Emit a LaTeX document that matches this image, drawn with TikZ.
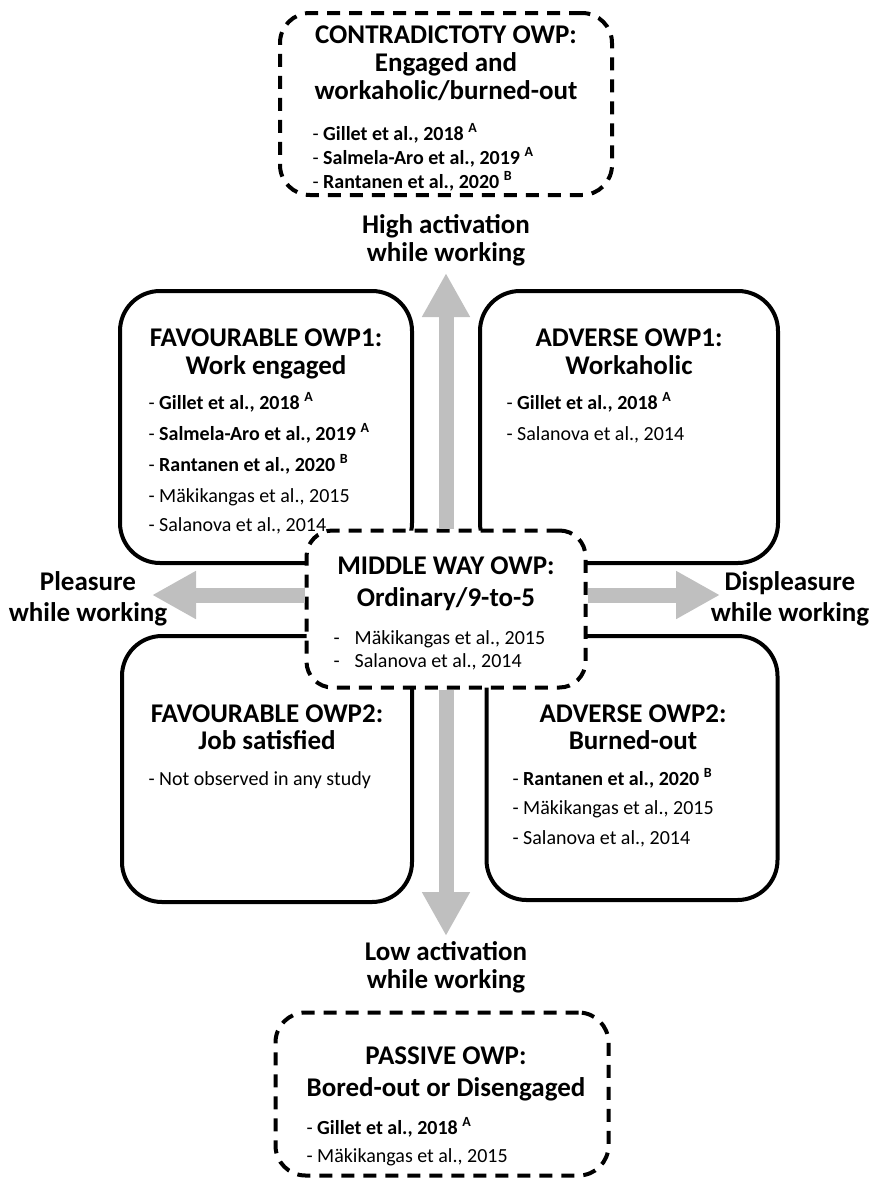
\documentclass[tikz,border=0pt]{standalone}
\usepackage{fontspec}
\setmainfont{Carlito}
\usetikzlibrary{arrows.meta}
\begin{document}
\begin{tikzpicture}[x=1pt, y=-1pt,
    owpbox/.style={draw, line width=4pt, rounded corners=40pt, fill=white, inner sep=0pt},
    dashbox/.style={owpbox, rounded corners=30pt, dash pattern=on 13pt off 9pt},
    ttl/.style={font=\fontsize{27}{30}\selectfont\bfseries, anchor=base},
    ref/.style={font=\fontsize{20}{24}\selectfont, anchor=base west},
    grayarrow/.style={line width=15pt, draw=black!25, -{Triangle[length=44pt,width=45pt]}}]
        \useasboundingbox (0,0) rectangle (873,1178);
        %\draw [help lines, step=50] (0,0) grid (873,1178);

        % outer (dashed) profiles
        \node (contra) [dashbox, minimum width=332pt, minimum height=182pt] at (446,104) {};
        \node (passive) [dashbox, minimum width=333pt, minimum height=163pt] at (442,1094) {};

        % the four quadrants
        \node (fav1) [owpbox, minimum width=292pt, minimum height=272pt] at (266,427) {};
        \node (adv1) [owpbox, minimum width=298pt, minimum height=272pt] at (629,427) {};
        \node (fav2) [owpbox, minimum width=290pt, minimum height=266pt] at (267,769) {};
        \node (adv2) [owpbox, minimum width=291pt, minimum height=264pt] at (632,768) {};

        % middle way, drawn over the quadrants
        \node (mid) [dashbox, rounded corners=26pt, minimum width=279pt, minimum height=157pt] at (446,609) {};

        % axes
        \coordinate (hightip) at (446,273);
        \coordinate (lowtip) at (446,936);
        \coordinate (pleastip) at (152,595);
        \coordinate (displtip) at (720,595);
        \draw [grayarrow] (mid.north -| hightip) -- (hightip);
        \draw [grayarrow] (mid.south -| lowtip) -- (lowtip);
        \draw [grayarrow] (mid.west |- pleastip) -- (pleastip);
        \draw [grayarrow] (mid.east |- displtip) -- (displtip);

        \node (hi1) [ttl] at (446,233) {High activation};
        \node (hi2) [ttl] at (446,261) {while working};
        \node (lo1) [ttl] at (446,960) {Low activation};
        \node (lo2) [ttl] at (446,988) {while working};
        \node (pl1) [ttl] at (88,590) {Pleasure};
        \node (pl2) [ttl] at (88,621) {while working};
        \node (dp1) [ttl] at (790,590) {Displeasure};
        \node (dp2) [ttl] at (790,621) {while working};

        % contradictory
        \node (contraA) [ttl] at (446,43) {CONTRADICTOTY OWP:};
        \node (contraB) [ttl] at (446,71) {Engaged and};
        \node (contraC) [ttl] at (446,99) {workaholic/burned-out};
        \node (contra1) [ref] at (309,140) {- \textbf{Gillet et al., 2018 \textsuperscript{A}}};
        \node (contra2) [ref] at (309,164) {- \textbf{Salmela-Aro et al., 2019 \textsuperscript{A}}};
        \node (contra3) [ref] at (309,188) {- \textbf{Rantanen et al., 2020 \textsuperscript{B}}};

        % favourable 1
        \node (fav1A) [ttl] at (266,346) {FAVOURABLE OWP1:};
        \node (fav1B) [ttl] at (266,374) {Work engaged};
        \node (fav1a) [ref] at (145,409) {- \textbf{Gillet et al., 2018 \textsuperscript{A}}};
        \node (fav1b) [ref] at (145,440) {- \textbf{Salmela-Aro et al., 2019 \textsuperscript{A}}};
        \node (fav1c) [ref] at (145,471) {- \textbf{Rantanen et al., 2020 \textsuperscript{B}}};
        \node (fav1d) [ref] at (145,502) {- Mäkikangas et al., 2015};
        \node (fav1e) [ref] at (145,531) {- Salanova et al., 2014};

        % adverse 1
        \node (adv1A) [ttl] at (629,346) {ADVERSE OWP1:};
        \node (adv1B) [ttl] at (629,374) {Workaholic};
        \node (adv1a) [ref] at (503,409) {- \textbf{Gillet et al., 2018 \textsuperscript{A}}};
        \node (adv1b) [ref] at (503,440) {- Salanova et al., 2014};

        % middle way
        \node (midA) [ttl] at (446,574) {MIDDLE WAY OWP:};
        \node (midB) [ttl] at (446,606) {Ordinary/9-to-5};
        \node (mida) [ref] at (330,644) {-\hspace{15pt}Mäkikangas et al., 2015};
        \node (midb) [ref] at (330,667) {-\hspace{15pt}Salanova et al., 2014};

        % favourable 2
        \node (fav2A) [ttl] at (267,722) {FAVOURABLE OWP2:};
        \node (fav2B) [ttl] at (267,749) {Job satisfied};
        \node (fav2a) [ref] at (145,785) {- Not observed in any study};

        % adverse 2
        \node (adv2A) [ttl] at (633,722) {ADVERSE OWP2:};
        \node (adv2B) [ttl] at (633,749) {Burned-out};
        \node (adv2a) [ref] at (509,785) {- \textbf{Rantanen et al., 2020 \textsuperscript{B}}};
        \node (adv2b) [ref] at (509,814) {- Mäkikangas et al., 2015};
        \node (adv2c) [ref] at (509,844) {- Salanova et al., 2014};

        % passive
        \node (passA) [ttl] at (446,1064) {PASSIVE OWP:};
        \node (passB) [ttl] at (446,1096) {Bored-out or Disengaged};
        \node (passa) [ref] at (303,1134) {- \textbf{Gillet et al., 2018 \textsuperscript{A}}};
        \node (passb) [ref] at (303,1162) {- Mäkikangas et al., 2015};
    \end{tikzpicture}
\end{document}
